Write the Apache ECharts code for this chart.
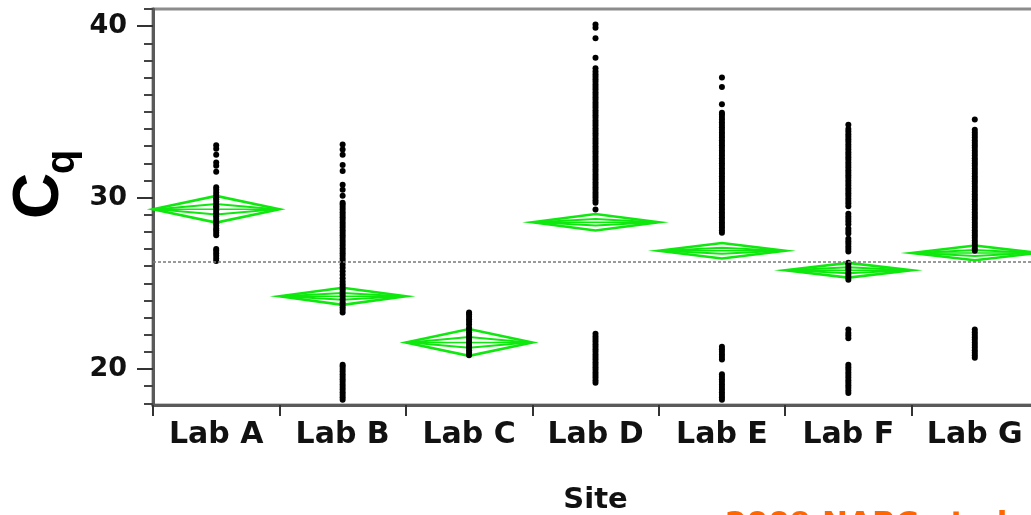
<!DOCTYPE html>
<html>
<head>
<meta charset="utf-8">
<script src="https://cdn.jsdelivr.net/npm/echarts@6.0.0/dist/echarts.min.js"></script>
<style>
html,body{margin:0;padding:0;background:#fff;}
#chart{width:1031px;height:515px;}
</style>
</head>
<body>
<div id="chart"></div>
<script>
// ---- data ----
const sites = ['Lab A', 'Lab B', 'Lab C', 'Lab D', 'Lab E', 'Lab F', 'Lab G'];
const yTickLabels = [20, 30, 40];
const yMinorTicks = [18, 19, 21, 22, 23, 24, 25, 26, 27, 28, 29, 31, 32, 33, 34, 35, 36, 37, 38, 39, 41];

const labA = [26.3, 26.45, 26.6, 26.75, 26.9, 27.0,
  27.8, 27.95, 28.1, 28.2, 28.35, 28.5, 28.6, 28.75, 28.9, 29.0, 29.1, 29.25, 29.4, 29.5, 29.6, 29.75, 29.9, 30.0, 30.15, 30.3, 30.45, 30.6,
  31.5, 31.85, 32.05, 32.5, 32.85, 33.05];
const labB = [18.2, 18.35, 18.5, 18.65, 18.8, 18.95, 19.1, 19.25, 19.4, 19.55, 19.7, 19.85, 20.0, 20.15, 20.25,
  23.3, 23.45, 23.6, 23.75, 23.9, 24.05, 24.2, 24.35, 24.5, 24.65, 24.8, 24.95, 25.1, 25.3, 25.5, 25.7, 25.9, 26.1, 26.3, 26.45, 26.6, 26.75, 26.9,
  27.05, 27.2, 27.35, 27.5, 27.65, 27.8, 27.95, 28.1, 28.25, 28.4, 28.55, 28.7, 28.85, 29.0, 29.15, 29.3, 29.45, 29.6, 29.7,
  30.1, 30.45, 30.75, 31.55, 31.9, 32.5, 32.8, 33.1];
const labC = [20.8, 20.95, 21.1, 21.25, 21.4, 21.55, 21.7, 21.85, 22.0, 22.15, 22.3, 22.4, 22.6, 22.75, 22.9, 23.05, 23.2, 23.3];
const labD = [19.2, 19.35, 19.5, 19.65, 19.8, 19.95, 20.1, 20.25, 20.4, 20.55, 20.7, 20.85, 21.0, 21.15, 21.3, 21.45, 21.6, 21.75, 21.9, 22.05,
  29.3, 29.7, 29.85, 30.0, 30.15, 30.3, 30.45, 30.6, 30.75, 30.9, 31.05, 31.2, 31.35, 31.5, 31.65, 31.8, 31.95, 32.1, 32.25, 32.4, 32.55, 32.7,
  32.85, 33.0, 33.15, 33.3, 33.45, 33.6, 33.75, 33.9, 34.05, 34.2, 34.35, 34.5, 34.65, 34.8, 34.95, 35.1, 35.25, 35.4, 35.55, 35.7, 35.85,
  36.0, 36.15, 36.3, 36.45, 36.6, 36.75, 36.9, 37.05, 37.2, 37.35, 37.55,
  38.15, 39.3, 39.9, 40.1];
const labE = [18.2, 18.35, 18.5, 18.65, 18.8, 18.95, 19.1, 19.25, 19.4, 19.55, 19.7, 20.55, 20.7, 20.85, 21.0, 21.15, 21.3,
  27.95, 28.1, 28.25, 28.4, 28.55, 28.7, 28.85, 29.0, 29.15, 29.3, 29.45, 29.6, 29.75, 29.9, 30.05, 30.2, 30.35, 30.5, 30.65, 30.8, 30.95,
  31.1, 31.25, 31.4, 31.55, 31.7, 31.85, 32.0, 32.15, 32.3, 32.45, 32.6, 32.75, 32.9, 33.05, 33.2, 33.35, 33.5, 33.65, 33.8, 33.95,
  34.1, 34.25, 34.4, 34.55, 34.7, 34.85, 34.95,
  35.45, 36.45, 37.0];
const labF = [18.6, 18.75, 18.9, 19.05, 19.2, 19.35, 19.5, 19.65, 19.8, 19.95, 20.1, 20.25, 21.8, 21.95, 22.1, 22.3,
  25.2, 25.35, 25.5, 25.65, 25.8, 25.95, 26.1, 26.2, 26.85, 27.0, 27.15, 27.3, 27.45, 27.6, 27.9, 28.05, 28.2,
  28.45, 28.6, 28.75, 28.9, 29.05,
  29.5, 29.65, 29.8, 29.95, 30.1, 30.25, 30.4, 30.55, 30.7, 30.85, 31.0, 31.15, 31.3, 31.45, 31.6, 31.75, 31.9, 32.05, 32.2, 32.35,
  32.5, 32.65, 32.8, 32.95, 33.1, 33.25, 33.4, 33.55, 33.7, 33.85, 34.0, 34.25];
const labG = [20.65, 20.8, 20.95, 21.1, 21.25, 21.4, 21.55, 21.7, 21.85, 22.0, 22.15, 22.3,
  26.9, 27.05, 27.2, 27.35, 27.5, 27.65, 27.8, 27.95, 28.1, 28.25, 28.4, 28.55, 28.7, 28.85, 29.0, 29.15, 29.3, 29.45, 29.6, 29.75, 29.9,
  30.05, 30.2, 30.35, 30.5, 30.65, 30.8, 30.95, 31.1, 31.25, 31.4, 31.55, 31.7, 31.85, 32.0, 32.15, 32.3, 32.45, 32.6, 32.75, 32.9,
  33.05, 33.2, 33.35, 33.5, 33.65, 33.8, 33.95, 34.55];

const siteMeans = [29.32, 24.24, 21.55, 28.56, 26.9, 25.76, 26.77];
const siteCI = [0.78, 0.5, 0.78, 0.48, 0.45, 0.43, 0.43];
const grandMean = 26.27;

// ---- build ----
const labPoints = [labA, labB, labC, labD, labE, labF, labG];
const scatterData = [];
labPoints.forEach(function (arr, i) {
  arr.forEach(function (v) { scatterData.push([i, v]); });
});
const diamondData = siteMeans.map(function (m, i) { return [i, m, siteCI[i]]; });

const GREEN = '#0fe80f';
const FONT = 'DejaVu Sans';

const chart = echarts.init(document.getElementById('chart'), null, { renderer: 'canvas' });
chart.setOption({
  animation: false,
  backgroundColor: '#fff',
  grid: {
    left: 153, right: -7, top: 9, bottom: 110,
    outerBoundsMode: 'none',
    containLabel: false,
    show: true, borderColor: '#8c8c8c', borderWidth: 3, backgroundColor: 'transparent'
  },
  xAxis: {
    type: 'category',
    data: sites,
    boundaryGap: true,
    axisLine: { lineStyle: { color: '#5a5a5a', width: 3 } },
    axisTick: { show: true, length: 11, lineStyle: { color: '#333', width: 2 } },
    axisLabel: { fontFamily: FONT, fontWeight: 'bold', fontSize: 30, color: '#111', margin: 15 },
    name: 'Site',
    nameLocation: 'middle',
    nameGap: 81,
    nameTextStyle: { fontFamily: FONT, fontWeight: 'bold', fontSize: 29, color: '#111' },
    splitLine: { show: false }
  },
  yAxis: [{
    type: 'value',
    min: 17.9, max: 41,
    position: 'left',
    axisLine: { show: true, lineStyle: { color: '#5a5a5a', width: 3 } },
    axisTick: { show: true, customValues: yTickLabels, length: 16, lineStyle: { color: '#333', width: 2 } },
    axisLabel: { customValues: yTickLabels, fontFamily: FONT, fontWeight: 'bold', fontSize: 27, color: '#111', margin: 26 },
    splitLine: { show: false }
  }, {
    type: 'value',
    min: 17.9, max: 41,
    position: 'left',
    axisLine: { show: false },
    axisTick: { show: true, customValues: yMinorTicks, length: 9, lineStyle: { color: '#444', width: 2 } },
    axisLabel: { show: false },
    splitLine: { show: false }
  }],
  series: [{
    type: 'custom',
    data: diamondData,
    z: 3,
    renderItem: function (params, api) {
      const x = api.value(0), m = api.value(1), h = api.value(2);
      const c = api.coord([x, m]);
      const w = api.size([1, 0])[0];
      const t = api.coord([x, m + h])[1];
      const b = api.coord([x, m - h])[1];
      const it = api.coord([x, m + h * 0.4])[1];
      const ib = api.coord([x, m - h * 0.4])[1];
      const l = c[0] - w / 2, r = c[0] + w / 2;
      return {
        type: 'group',
        children: [
          { type: 'polygon', shape: { points: [[l, c[1]], [c[0], t], [r, c[1]], [c[0], b]] }, style: { stroke: GREEN, fill: null, lineWidth: 2.6 } },
          { type: 'polygon', shape: { points: [[l + 4, c[1]], [c[0], it], [r - 4, c[1]], [c[0], ib]] }, style: { stroke: GREEN, fill: null, lineWidth: 2 } },
          { type: 'line', shape: { x1: l, y1: c[1], x2: r, y2: c[1] }, style: { stroke: GREEN, lineWidth: 1.6 } }
        ]
      };
    }
  }, {
    type: 'scatter',
    data: scatterData,
    symbol: 'circle',
    symbolSize: 6,
    itemStyle: { color: '#000', opacity: 1 },
    z: 4,
    markLine: {
      silent: true,
      symbol: 'none',
      label: { show: false },
      lineStyle: { color: '#7a7a7a', width: 1.5, type: [3, 2] },
      data: [{ yAxis: grandMean }]
    }
  }],
  graphic: [
    { type: 'text', x: 40, y: 196, rotation: Math.PI / 2,
      style: { text: 'C', font: 'bold 64px "Liberation Sans"', fill: '#000', align: 'center', verticalAlign: 'middle', textAlign: 'center', textVerticalAlign: 'middle' } },
    { type: 'text', x: 63, y: 162, rotation: Math.PI / 2,
      style: { text: 'q', font: 'bold 40px "Liberation Sans"', fill: '#000', align: 'center', verticalAlign: 'middle', textAlign: 'center', textVerticalAlign: 'middle' } },
    { type: 'text', left: 725, top: 509,
      style: { text: '2009 NABC et al.', font: 'bold 31px "DejaVu Sans"', fill: '#ff6600' } }
  ]
});
</script>
</body>
</html>
